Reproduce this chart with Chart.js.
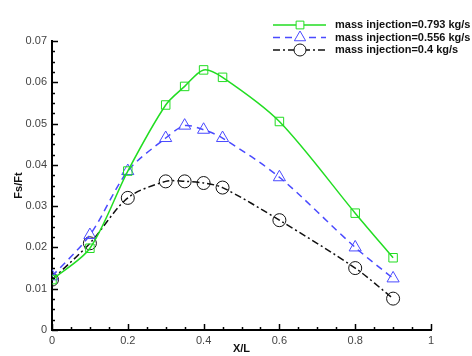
<!DOCTYPE html>
<html>
<head>
<meta charset="utf-8">
<script src="https://cdn.jsdelivr.net/npm/chart.js@4/dist/chart.umd.min.js"></script>
<style>
  html, body { margin: 0; padding: 0; background: #fff; }
  #wrap { width: 472px; height: 356px; }
</style>
</head>
<body>
<div id="wrap"><canvas id="chart"></canvas></div>
<script>
// X/L positions where the values were sampled
const xPositions = [0, 0.1, 0.2, 0.3, 0.35, 0.4, 0.45, 0.6, 0.8, 0.9];

// Fs/Ft for each injection rate
const fs0793 = [0.0122, 0.0198, 0.0385, 0.0545, 0.0590, 0.0630, 0.0612, 0.0505, 0.0283, 0.0175];
const fs0556 = [0.0130, 0.0230, 0.0385, 0.0465, 0.0495, 0.0485, 0.0465, 0.0370, 0.0200, 0.0125];
const fs04 = [0.0122, 0.0210, 0.0320, 0.0360, 0.0360, 0.0356, 0.0345, 0.0266, 0.0150, 0.0076];

const seriesLabels = [
  'mass injection=0.793 kg/s',
  'mass injection=0.556 kg/s',
  'mass injection=0.4 kg/s'
];

const xTickLabels = ['0', '0.2', '0.4', '0.6', '0.8', '1'];
const yTickLabels = ['0', '0.01', '0.02', '0.03', '0.04', '0.05', '0.06', '0.07'];

const toPoints = ys => xPositions.map((x, i) => ({ x, y: ys[i] }));

const FONT = '"Liberation Sans", Arial, sans-serif';

// inward major/minor ticks like the original plot
const insideTicks = {
  id: 'insideTicks',
  afterDraw(chart) {
    const ctx = chart.ctx;
    const xs = chart.scales.x, ys = chart.scales.y;
    const area = chart.chartArea;
    ctx.save();
    ctx.strokeStyle = '#000';
    ctx.lineWidth = 1.5;
    for (let i = 0; i <= 20; i++) {
      const v = i * 0.05;
      const px = Math.round(xs.getPixelForValue(v)) + 0.5;
      const len = i % 4 === 0 ? 6 : 3;
      ctx.beginPath();
      ctx.moveTo(px, area.bottom);
      ctx.lineTo(px, area.bottom - len);
      ctx.stroke();
    }
    for (let i = 0; i <= 28; i++) {
      const v = i * 0.0025;
      const py = Math.round(ys.getPixelForValue(v)) + 0.5;
      const len = i % 4 === 0 ? 6 : 3;
      ctx.beginPath();
      ctx.moveTo(area.left, py);
      ctx.lineTo(area.left + len, py);
      ctx.stroke();
    }
    ctx.restore();
  }
};

// legend with line style + marker, drawn top right
const lineLegend = {
  id: 'lineLegend',
  afterDraw(chart) {
    const ctx = chart.ctx;
    ctx.save();
    chart.data.datasets.forEach((ds, i) => {
      const y = 25 + i * 12.5;
      ctx.strokeStyle = ds.borderColor;
      ctx.lineWidth = ds.borderWidth;
      ctx.setLineDash(ds.borderDash || []);
      ctx.beginPath();
      ctx.moveTo(273, y);
      ctx.lineTo(326, y);
      ctx.stroke();
      ctx.setLineDash([]);
      ctx.fillStyle = '#fff';
      ctx.lineWidth = 1;
      Chart.helpers.drawPoint(ctx, {
        pointStyle: ds.pointStyle,
        radius: ds.pointRadius - 0.5,
        borderWidth: 1
      }, 300, y);
      ctx.fillStyle = '#111';
      ctx.font = 'bold 11px ' + FONT;
      ctx.textBaseline = 'middle';
      ctx.fillText(ds.label, 335, y);
    });
    ctx.restore();
  }
};

new Chart(document.getElementById('chart'), {
  type: 'line',
  data: {
    datasets: [
      {
        label: seriesLabels[0],
        data: toPoints(fs0793),
        borderColor: '#22dd22',
        backgroundColor: 'rgba(0,0,0,0)',
        borderWidth: 1.5,
        pointStyle: 'rect',
        pointRadius: 6,
        pointBorderWidth: 1,
        pointBackgroundColor: 'rgba(0,0,0,0)',
        tension: 0.3
      },
      {
        label: seriesLabels[1],
        data: toPoints(fs0556),
        borderColor: '#4a4aff',
        backgroundColor: 'rgba(0,0,0,0)',
        borderWidth: 1.5,
        borderDash: [7, 5],
        pointStyle: 'triangle',
        pointRadius: 7,
        pointBorderWidth: 1,
        pointBackgroundColor: 'rgba(0,0,0,0)',
        tension: 0.3
      },
      {
        label: seriesLabels[2],
        data: toPoints(fs04),
        borderColor: '#111',
        backgroundColor: 'rgba(0,0,0,0)',
        borderWidth: 1.5,
        borderDash: [7, 3, 2, 3],
        pointStyle: 'circle',
        pointRadius: 6.5,
        pointBorderWidth: 1,
        pointBackgroundColor: 'rgba(0,0,0,0)',
        tension: 0.3
      }
    ]
  },
  options: {
    responsive: true,
    maintainAspectRatio: false,
    animation: false,
    layout: { padding: { top: 41, right: 41, left: 12, bottom: 0 } },
    plugins: {
      legend: { display: false },
      tooltip: { enabled: false }
    },
    scales: {
      x: {
        type: 'linear',
        min: 0,
        max: 1,
        grid: { display: false, drawTicks: false },
        border: { display: true, color: '#000', width: 2 },
        afterBuildTicks: s => { s.ticks = xTickLabels.map(t => ({ value: parseFloat(t) })); },
        afterFit: s => { s.height = 26; },
        ticks: {
          padding: 4,
          color: '#444',
          font: { family: FONT, size: 11 },
          callback: (v, i) => xTickLabels[i]
        },
        title: {
          display: true,
          text: 'X/L',
          color: '#111',
          padding: { top: -3, bottom: 0 },
          font: { family: FONT, size: 11, weight: 'bold' }
        }
      },
      y: {
        type: 'linear',
        min: 0,
        max: 0.07,
        grid: { display: false, drawTicks: false },
        border: { display: true, color: '#000', width: 2 },
        afterBuildTicks: s => { s.ticks = yTickLabels.map(t => ({ value: parseFloat(t) })); },
        afterFit: s => { s.width = 40; },
        ticks: {
          padding: 5,
          color: '#444',
          font: { family: FONT, size: 11 },
          callback: (v, i) => yTickLabels[i]
        },
        title: {
          display: true,
          text: 'Fs/Ft',
          color: '#111',
          padding: { top: 0, bottom: 0 },
          font: { family: FONT, size: 11, weight: 'bold' }
        }
      }
    }
  },
  plugins: [insideTicks, lineLegend]
});
</script>
</body>
</html>
